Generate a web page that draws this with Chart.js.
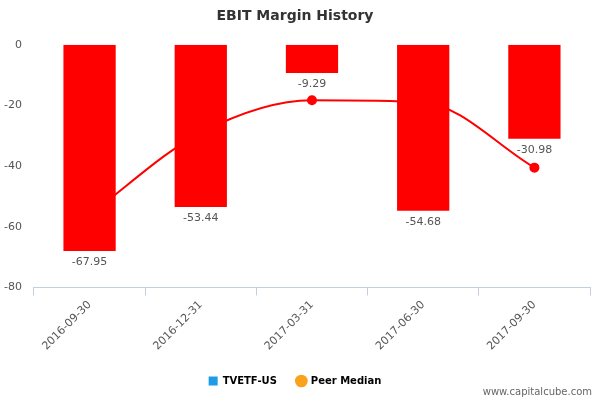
<!DOCTYPE html>
<html><head><meta charset="utf-8">
<script src="https://cdn.jsdelivr.net/npm/chart.js@4"></script>
<style>body{margin:0;background:#fff}#w{width:600px;height:400px;position:relative}</style>
</head><body><div id="w"><canvas id="c"></canvas></div>
<script>
const categories=['2016-09-30','2016-12-31','2017-03-31','2017-06-30','2017-09-30'];
const ebitMargin=[-67.95,-53.44,-9.29,-54.68,-30.98];
const peerMedian=[-56,-29,-18.3,-19,-40.5];
const yTicks=[0,-20,-40,-60,-80];

const labelPlugin={id:'lbl',afterDatasetsDraw(ch){
  const ctx=ch.ctx,meta=ch.getDatasetMeta(0);
  ctx.save();ctx.font='11px "DejaVu Sans"';ctx.fillStyle='#555';ctx.textAlign='center';ctx.textBaseline='top';
  meta.data.forEach((b,i)=>ctx.fillText(ebitMargin[i].toFixed(2),b.x,b.y+6));
  ctx.font='10px "DejaVu Sans"';ctx.fillStyle='#666';ctx.textAlign='right';ctx.textBaseline='bottom';
  ctx.fillText('www.capitalcube.com',592,397);
  ctx.restore();
}};
new Chart(document.getElementById('c'),{
  data:{labels:categories,datasets:[
    {type:'bar',label:'TVETF-US',data:ebitMargin,backgroundColor:'#ff0000',order:1,barPercentage:0.47,categoryPercentage:1},
    {type:'line',label:'Peer Median',data:peerMedian,borderColor:'#ff0000',backgroundColor:'#ff0000',borderWidth:2,cubicInterpolationMode:'monotone',pointRadius:4,order:2}
  ]},
  options:{responsive:true,maintainAspectRatio:false,animation:false,
    layout:{padding:{left:0,right:10,top:0,bottom:4}},
    plugins:{tooltip:{enabled:false},
      title:{display:true,text:'EBIT Margin History',color:'#333',font:{family:'DejaVu Sans',size:14,weight:'bold'},padding:{top:8,bottom:20}},
      legend:{position:'bottom',labels:{font:{family:'DejaVu Sans',size:10,weight:'bold'},color:'#333',usePointStyle:true,boxWidth:9,boxHeight:9,padding:20,
        generateLabels:()=>[
          {text:'TVETF-US',fillStyle:'#1e9be6',strokeStyle:'#1e9be6',pointStyle:'rect',lineWidth:0,datasetIndex:0},
          {text:'Peer Median',fillStyle:'#f9a21a',strokeStyle:'#f9a21a',pointStyle:'circle',lineWidth:0,datasetIndex:1}]}}},
    scales:{
      x:{grid:{display:true,drawOnChartArea:false,offset:true,color:'#c0d0e0',tickLength:8},border:{color:'#c0d0e0'},
        ticks:{color:'#555',font:{family:'DejaVu Sans',size:11},maxRotation:45,minRotation:45}},
      y:{min:-80,max:0,afterBuildTicks(a){a.ticks=yTicks.map(v=>({value:v}));},
        grid:{display:false},border:{display:false},ticks:{color:'#555',font:{family:'DejaVu Sans',size:11},padding:4}}
    }},
  plugins:[labelPlugin]
});
</script></body></html>
